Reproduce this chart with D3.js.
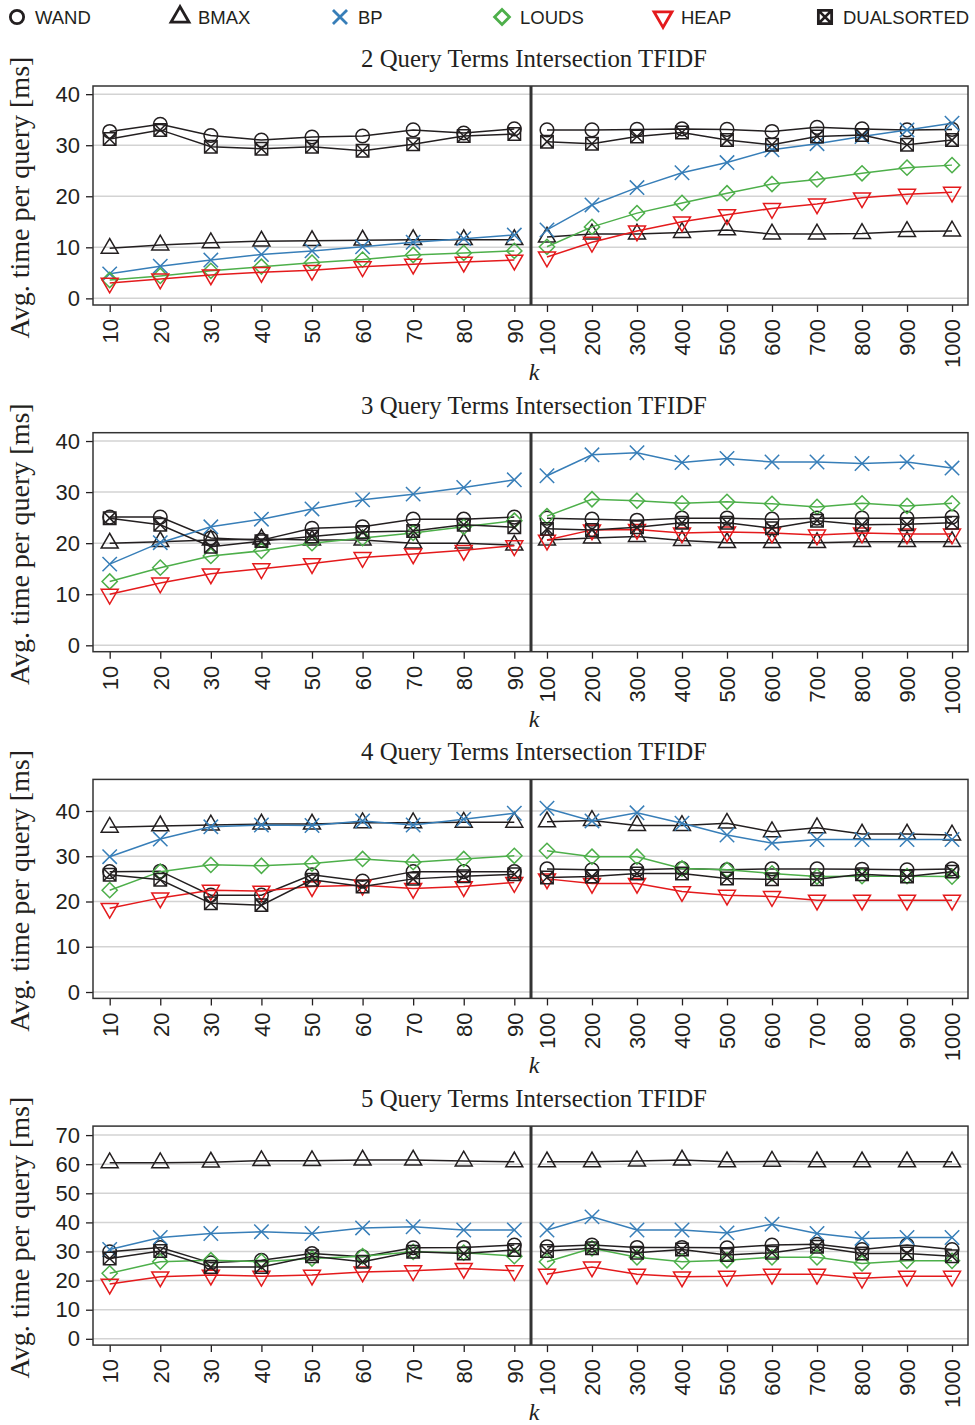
<!DOCTYPE html>
<html>
<head>
<meta charset="utf-8">
<script src="https://cdn.jsdelivr.net/npm/d3@7"></script>
<style>
  body { margin: 0; background: #fff; }
  svg { display: block; }
</style>
</head>
<body>
<div id="chart"></div>
<script>
// k values: left half 10..90, right half 100..1000
const kLeft = ["10", "20", "30", "40", "50", "60", "70", "80", "90"];
const kRight = ["100", "200", "300", "400", "500", "600", "700", "800", "900", "1000"];

const seriesNames = ["WAND", "BMAX", "BP", "LOUDS", "HEAP", "DUALSORTED"];
const panelTitles = [
  "2 Query Terms Intersection TFIDF",
  "3 Query Terms Intersection TFIDF",
  "4 Query Terms Intersection TFIDF",
  "5 Query Terms Intersection TFIDF"
];
const yTicksSmall = [0, 10, 20, 30, 40];
const yTicksLarge = [0, 10, 20, 30, 40, 50, 60, 70];

// avg. time per query [ms], 9 left values then 10 right values
// 2 terms
const wand2  = [32.7, 34.1, 31.9, 31.0, 31.6, 31.8, 33.0, 32.4, 33.2,  33.0, 33.0, 33.1, 33.2, 33.1, 32.7, 33.5, 33.2, 33.0, 33.1];
const bmax2  = [9.8, 10.45, 10.9, 11.2, 11.3, 11.4, 11.5, 11.5, 11.5,  12.0, 12.6, 12.6, 12.9, 13.4, 12.6, 12.6, 12.7, 13.1, 13.2];
const bp2    = [4.8, 6.3, 7.5, 8.6, 9.3, 10.1, 11.0, 11.7, 12.4,  13.4, 18.3, 21.7, 24.6, 26.6, 29.1, 30.3, 31.7, 33.0, 34.3];
const louds2 = [3.6, 4.4, 5.4, 6.2, 7.0, 7.6, 8.5, 8.9, 9.3,  10.1, 14.0, 16.7, 18.7, 20.6, 22.4, 23.3, 24.5, 25.6, 26.1];
const heap2  = [3.0, 3.8, 4.6, 5.1, 5.5, 6.2, 6.7, 7.1, 7.5,  8.1, 11.0, 13.2, 15.0, 16.4, 17.6, 18.5, 19.7, 20.4, 20.8];
const dual2  = [31.2, 33.0, 29.7, 29.3, 29.7, 28.9, 30.2, 31.8, 32.2,  30.7, 30.3, 31.7, 32.5, 31.0, 30.1, 31.7, 32.0, 30.1, 31.0];
// 3 terms
const wand3  = [25.1, 25.1, 21.0, 20.6, 22.9, 23.2, 24.7, 24.7, 25.1,  24.9, 24.7, 24.5, 24.9, 24.9, 24.7, 24.9, 24.9, 24.9, 25.1];
const bmax3  = [20.0, 20.3, 20.6, 20.8, 20.6, 20.6, 20.0, 20.0, 19.6,  20.6, 21.0, 21.3, 20.5, 20.1, 20.1, 20.1, 20.3, 20.3, 20.3];
const bp3    = [15.9, 20.1, 23.2, 24.7, 26.7, 28.5, 29.6, 30.9, 32.4,  33.2, 37.3, 37.7, 35.8, 36.6, 35.9, 35.9, 35.6, 35.9, 34.7];
const louds3 = [12.5, 15.2, 17.5, 18.5, 20.0, 21.0, 22.0, 23.2, 24.4,  25.3, 28.6, 28.3, 27.8, 28.1, 27.7, 27.1, 27.8, 27.3, 27.8];
const heap3  = [10.0, 12.2, 14.0, 15.0, 16.0, 17.2, 17.9, 18.6, 19.5,  20.6, 22.6, 22.7, 22.0, 22.2, 22.0, 21.6, 22.0, 21.8, 21.8];
const dual3  = [24.9, 23.6, 19.3, 20.4, 21.3, 22.2, 22.4, 23.6, 23.1,  22.8, 22.6, 23.1, 24.0, 24.0, 22.9, 24.4, 23.6, 23.7, 24.0];
// 4 terms
const wand4  = [26.6, 26.7, 21.4, 21.4, 25.9, 24.5, 26.6, 26.6, 26.6,  27.2, 27.0, 27.0, 27.3, 27.0, 27.2, 27.2, 27.1, 27.0, 27.2];
const bmax4  = [36.4, 36.7, 36.9, 37.1, 37.1, 37.4, 37.4, 37.5, 37.5,  37.6, 37.9, 36.8, 36.8, 37.3, 35.4, 36.3, 34.9, 34.9, 34.7];
const bp4    = [29.9, 33.8, 36.5, 36.9, 36.8, 37.8, 36.9, 38.2, 39.5,  40.6, 37.8, 39.6, 37.3, 34.7, 32.9, 33.7, 33.7, 33.7, 33.7];
const louds4 = [22.5, 26.6, 28.1, 27.9, 28.4, 29.4, 28.7, 29.4, 30.1,  31.2, 29.9, 29.9, 27.3, 27.0, 26.2, 25.5, 25.6, 25.6, 25.5];
const heap4  = [18.5, 20.8, 22.5, 22.3, 23.3, 23.6, 22.9, 23.3, 24.2,  25.0, 24.0, 24.0, 22.2, 21.4, 21.1, 20.3, 20.3, 20.3, 20.3];
const dual4  = [25.9, 24.8, 19.6, 19.2, 24.8, 23.3, 25.0, 25.6, 26.0,  25.3, 25.5, 26.2, 26.2, 25.1, 24.9, 24.9, 26.0, 25.5, 26.6];
// 5 terms
const wand5  = [29.9, 31.4, 26.1, 27.0, 29.3, 28.2, 31.3, 31.4, 32.2,  31.6, 32.2, 31.4, 31.4, 31.3, 32.2, 32.5, 30.7, 32.2, 30.7];
const bmax5  = [60.5, 60.5, 60.7, 61.2, 61.2, 61.4, 61.4, 61.1, 60.8,  60.8, 60.8, 61.1, 61.4, 60.8, 61.0, 60.8, 60.8, 60.8, 60.8];
const bp5    = [30.7, 34.8, 36.2, 36.8, 36.2, 38.1, 38.5, 37.4, 37.4,  37.4, 41.9, 37.4, 37.4, 36.4, 39.4, 36.2, 34.5, 34.8, 34.8];
const louds5 = [22.5, 26.5, 27.0, 26.5, 27.6, 28.4, 29.9, 29.6, 28.4,  26.5, 31.1, 28.0, 26.5, 27.0, 28.0, 28.0, 25.9, 26.8, 26.8];
const heap5  = [18.8, 21.3, 21.9, 21.5, 21.9, 23.0, 23.4, 24.2, 23.4,  22.2, 24.7, 22.2, 21.3, 21.5, 22.2, 22.2, 20.8, 21.5, 21.5];
const dual5  = [27.6, 30.2, 24.7, 24.7, 28.4, 26.5, 29.9, 29.3, 30.5,  30.2, 31.1, 29.6, 30.7, 28.8, 29.6, 31.6, 29.3, 29.3, 28.4];

const panels = [
  { title: panelTitles[0], ticks: yTicksSmall, series: [wand2, bmax2, bp2, louds2, heap2, dual2] },
  { title: panelTitles[1], ticks: yTicksSmall, series: [wand3, bmax3, bp3, louds3, heap3, dual3] },
  { title: panelTitles[2], ticks: yTicksSmall, series: [wand4, bmax4, bp4, louds4, heap4, dual4] },
  { title: panelTitles[3], ticks: yTicksLarge, series: [wand5, bmax5, bp5, louds5, heap5, dual5] }
];

// ---- layout ----
const W = 975, H = 1425;
const plotLeft = 93, plotMid = 531, plotRight = 968;
const plotH = 219, panelStep = 346.7, firstTop = 86;
const yDomains = [[-1.3, 41.6], [-1.25, 41.63], [-1.41, 46.98], [-2.16, 73.09]];

const colors = { WAND: "#231f20", BMAX: "#231f20", BP: "#377eb8", LOUDS: "#4daf4a", HEAP: "#e41a1c", DUALSORTED: "#231f20" };
const shapes = { WAND: "circle", BMAX: "up", BP: "x", LOUDS: "diamond", HEAP: "down", DUALSORTED: "boxx" };

const svg = d3.select("#chart").append("svg")
  .attr("width", W)
  .attr("height", H);

// draws one marker shape into group g
function drawMarker(g, shape, color, s, sw) {
  if (shape === "circle") {
    g.append("circle").attr("r", s * 0.85).attr("fill", "none").attr("stroke", color).attr("stroke-width", sw);
    return;
  }
  let d;
  if (shape === "up") {
    const h = s * 2 * 0.866;
    d = `M0,${-2 * h / 3}L${-s},${h / 3}L${s},${h / 3}Z`;
  } else if (shape === "down") {
    const h = s * 2 * 0.866;
    d = `M0,${2 * h / 3}L${-s},${-h / 3}L${s},${-h / 3}Z`;
  } else if (shape === "x") {
    const a = s * 0.9;
    d = `M${-a},${-a}L${a},${a}M${-a},${a}L${a},${-a}`;
  } else if (shape === "diamond") {
    const a = s * 0.95;
    d = `M0,${-a}L${a},0L0,${a}L${-a},0Z`;
  } else {
    const a = s * 0.78;
    d = `M${-a},${-a}H${a}V${a}H${-a}ZM${-a},${-a}L${a},${a}M${-a},${a}L${a},${-a}`;
  }
  g.append("path").attr("d", d).attr("fill", "none").attr("stroke", color)
    .attr("stroke-width", sw).attr("stroke-linejoin", "miter");
}

// legend
const legendX = [17, 180, 340, 502, 663, 825];
seriesNames.forEach((name, i) => {
  const g = svg.append("g").attr("transform", `translate(${legendX[i]},17)`);
  drawMarker(g, shapes[name], colors[name], name === "BMAX" || name === "HEAP" ? 9 : (name === "DUALSORTED" ? 8.5 : 7.8), 2.8);
  svg.append("text")
    .attr("x", legendX[i] + 18)
    .attr("y", 17)
    .attr("dy", "0.36em")
    .style("font-family", "'Liberation Sans', Arial, sans-serif")
    .style("font-size", "18.5px")
    .attr("fill", "#231f20")
    .text(name);
});

const xLeft = d3.scalePoint().domain(kLeft).range([plotLeft, plotMid]).padding(0.33);
const xRight = d3.scalePoint().domain(kRight).range([plotMid, plotRight]).padding(0.355);

panels.forEach((p, pi) => {
  const top = firstTop + pi * panelStep;
  const bottom = top + plotH;
  const y = d3.scaleLinear().domain(yDomains[pi]).range([bottom, top]);
  const g = svg.append("g");

  // title
  g.append("text")
    .attr("x", 534)
    .attr("y", top - 19)
    .attr("text-anchor", "middle")
    .style("font-family", "'Liberation Serif', 'Times New Roman', serif")
    .style("font-size", "24.8px")
    .attr("fill", "#231f20")
    .text(p.title);

  // grid
  g.selectAll(".grid").data(p.ticks).enter().append("line")
    .attr("x1", plotLeft).attr("x2", plotRight)
    .attr("y1", d => y(d)).attr("y2", d => y(d))
    .attr("stroke", "#d3d3d3").attr("stroke-width", 1.5);

  // y axis
  const yAxis = g.append("g")
    .attr("transform", `translate(${plotLeft},0)`)
    .call(d3.axisLeft(y).tickValues(p.ticks).tickSize(7).tickPadding(6));
  yAxis.select(".domain").remove();
  yAxis.selectAll(".tick line").attr("stroke", "#231f20").attr("stroke-width", 1.3);
  yAxis.selectAll(".tick text")
    .style("font-family", "'Liberation Sans', Arial, sans-serif")
    .style("font-size", "22px")
    .attr("fill", "#231f20");

  // x axes (left and right halves)
  [xLeft, xRight].forEach(x => {
    const ax = g.append("g")
      .attr("transform", `translate(0,${bottom})`)
      .call(d3.axisBottom(x).tickSize(7).tickPadding(0));
    ax.select(".domain").remove();
    ax.selectAll(".tick line").attr("stroke", "#231f20").attr("stroke-width", 1.3);
    ax.selectAll(".tick text")
      .attr("transform", "rotate(-90)")
      .attr("text-anchor", "end")
      .attr("x", -14)
      .attr("y", 0)
      .attr("dy", "0.36em")
      .style("font-family", "'Liberation Sans', Arial, sans-serif")
      .style("font-size", "22px")
      .attr("fill", "#231f20");
  });

  // k label
  g.append("text")
    .attr("x", 534)
    .attr("y", bottom + 75)
    .attr("text-anchor", "middle")
    .style("font-family", "'Liberation Serif', 'Times New Roman', serif")
    .style("font-style", "italic")
    .style("font-size", "24px")
    .attr("fill", "#231f20")
    .text("k");

  // y label
  g.append("text")
    .attr("transform", `translate(29,${(top + bottom) / 2 + 2}) rotate(-90)`)
    .attr("text-anchor", "middle")
    .style("font-family", "'Liberation Serif', 'Times New Roman', serif")
    .style("font-size", "28px")
    .attr("fill", "#231f20")
    .text("Avg. time per query [ms]");

  // series
  const plotG = g.append("g");
  p.series.forEach((vals, si) => {
    const name = seriesNames[si];
    const color = colors[name];
    const halves = [
      { x: xLeft, keys: kLeft, v: vals.slice(0, 9) },
      { x: xRight, keys: kRight, v: vals.slice(9) }
    ];
    halves.forEach(h => {
      const pts = h.keys.map((k, i) => [h.x(k), y(h.v[i])]);
      plotG.append("path")
        .attr("d", d3.line()(pts))
        .attr("fill", "none")
        .attr("stroke", color)
        .attr("stroke-width", 1.5);
      pts.forEach(pt => {
        const mg = plotG.append("g").attr("transform", `translate(${pt[0]},${pt[1]})`);
        drawMarker(mg, shapes[name], color, name === "BMAX" || name === "HEAP" ? 8.5 : 8, 1.5);
      });
    });
  });

  // frame and divider
  g.append("rect")
    .attr("x", plotLeft).attr("y", top)
    .attr("width", plotRight - plotLeft).attr("height", plotH)
    .attr("fill", "none").attr("stroke", "#333").attr("stroke-width", 1.5);
  g.append("line")
    .attr("x1", plotMid).attr("x2", plotMid)
    .attr("y1", top).attr("y2", bottom)
    .attr("stroke", "#333").attr("stroke-width", 3);
});
</script>
</body>
</html>
